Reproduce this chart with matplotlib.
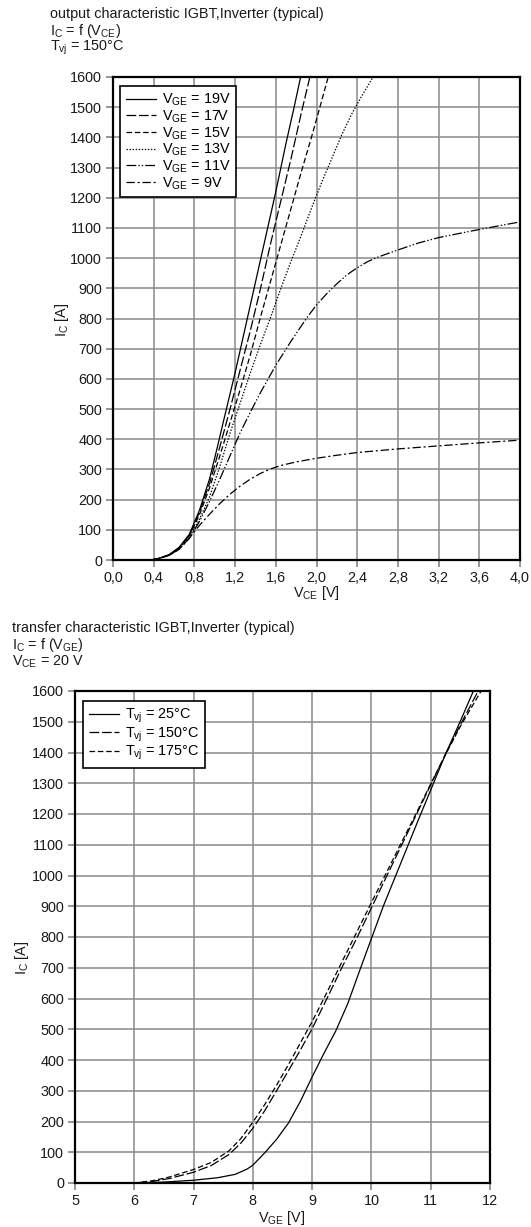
import matplotlib
matplotlib.use("Agg")
import matplotlib.pyplot as plt
import numpy as np

plt.rcParams['font.family'] = ['Liberation Sans', 'DejaVu Sans']
plt.rcParams['mathtext.default'] = 'regular'
plt.rcParams['lines.scale_dashes'] = False

# ---- output characteristic, Tvj = 150 C ----
vge_labels = ['19V', '17V', '15V', '13V', '11V', '9V']

vce_19 = [0.0, 0.37, 0.45, 0.55, 0.65, 0.75, 0.85, 0.95, 1.03, 1.1, 1.2, 1.3, 1.4, 1.5, 1.6, 1.7, 1.78, 1.844]
ic_19 = [0, 0, 5, 17, 42, 85, 165, 270, 380, 480, 620, 770, 920, 1070, 1220, 1380, 1500, 1600]

vce_17 = [0.0, 0.37, 0.45, 0.55, 0.65, 0.75, 0.85, 0.95, 1.05, 1.15, 1.25, 1.35, 1.45, 1.55, 1.65, 1.75, 1.85, 1.935]
ic_17 = [0, 0, 5, 17, 41, 82, 158, 255, 375, 500, 630, 760, 900, 1050, 1190, 1330, 1480, 1600]

vce_15 = [0.0, 0.37, 0.45, 0.55, 0.65, 0.75, 0.85, 0.95, 1.05, 1.15, 1.25, 1.35, 1.45, 1.55, 1.65, 1.75, 1.85, 1.95, 2.05, 2.115]
ic_15 = [0, 0, 5, 17, 40, 80, 150, 240, 345, 455, 565, 680, 805, 925, 1045, 1165, 1285, 1400, 1520, 1600]

vce_13 = [0.0, 0.37, 0.45, 0.55, 0.65, 0.75, 0.85, 0.95, 1.05, 1.15, 1.25, 1.35, 1.45, 1.55, 1.65, 1.75,
          1.85, 1.95, 2.05, 2.15, 2.25, 2.35, 2.45, 2.556]
ic_13 = [0, 0, 5, 16, 38, 75, 135, 210, 310, 420, 520, 620, 715, 805, 900, 990,
         1075, 1165, 1250, 1330, 1410, 1480, 1540, 1600]

vce_11 = [0.0, 0.37, 0.45, 0.55, 0.65, 0.75, 0.85, 0.95, 1.05, 1.15, 1.25, 1.35, 1.45, 1.6, 1.75, 1.9,
          2.0, 2.1, 2.2, 2.3, 2.4, 2.5, 2.6, 2.8, 3.0, 3.2, 3.6, 4.0]
ic_11 = [0, 0, 5, 15, 36, 72, 128, 195, 268, 345, 422, 490, 555, 645, 725, 800,
         845, 882, 915, 945, 968, 988, 1003, 1027, 1050, 1068, 1095, 1120]

vce_9 = [0.0, 0.37, 0.45, 0.55, 0.65, 0.75, 0.85, 0.95, 1.05, 1.15, 1.25, 1.35, 1.45, 1.55, 1.65, 1.8,
         2.0, 2.2, 2.4, 2.8, 3.2, 3.6, 4.0]
ic_9 = [0, 0, 5, 15, 35, 72, 115, 152, 187, 218, 245, 268, 287, 302, 313, 325,
        337, 347, 356, 368, 378, 388, 397]

vce_ticks = [0.0, 0.4, 0.8, 1.2, 1.6, 2.0, 2.4, 2.8, 3.2, 3.6, 4.0]
vce_ticklabels = ['0,0', '0,4', '0,8', '1,2', '1,6', '2,0', '2,4', '2,8', '3,2', '3,6', '4,0']

# ---- transfer characteristic, VCE = 20 V ----
tvj_labels = ['25°C', '150°C', '175°C']

vge_25 = [5.0, 6.0, 6.5, 7.0, 7.4, 7.7, 7.9, 8.0, 8.2, 8.4, 8.6, 8.8, 9.0, 9.2, 9.4, 9.6, 9.8,
          10.0, 10.2, 10.4, 10.6, 10.8, 11.0, 11.25, 11.5, 11.72]
ic_25 = [0, 0, 3, 9, 17, 28, 45, 58, 98, 142, 195, 265, 345, 422, 495, 583, 690,
         795, 900, 995, 1090, 1185, 1278, 1395, 1502, 1600]

vge_150 = [5.0, 6.0, 6.3, 6.6, 7.0, 7.3, 7.6, 7.8, 8.0, 8.2, 8.4, 8.6, 8.8, 9.0, 9.25, 9.5, 9.75,
           10.0, 10.25, 10.5, 10.75, 11.0, 11.25, 11.5, 11.8]
ic_150 = [0, 0, 5, 15, 35, 57, 93, 130, 178, 235, 300, 365, 432, 502, 600, 700, 795,
          895, 995, 1095, 1195, 1295, 1395, 1490, 1600]

vge_175 = [5.0, 6.0, 6.3, 6.6, 7.0, 7.3, 7.6, 7.8, 8.0, 8.2, 8.4, 8.6, 8.8, 9.0, 9.25, 9.5, 9.75,
           10.0, 10.25, 10.5, 10.75, 11.0, 11.25, 11.5, 11.85]
ic_175 = [0, 0, 7, 20, 44, 67, 105, 145, 198, 255, 318, 385, 455, 525, 620, 718, 815,
          912, 1008, 1105, 1200, 1298, 1393, 1485, 1600]

vge_ticks = [5, 6, 7, 8, 9, 10, 11, 12]
ic_ticks = list(range(0, 1700, 100))

W, H = 531, 1227
FS = 10.4
fig = plt.figure(figsize=(W / 100, H / 100), dpi=100)


def px_box(x0, y0, x1, y1):
    # pixel box (top-left origin) -> figure fraction rect
    return [x0 / W, 1 - y1 / H, (x1 - x0) / W, (y1 - y0) / H]


def style_axes(ax):
    ax.set_yticks(ic_ticks)
    ax.set_ylim(0, 1600)
    ax.grid(True, color='#8a8a8a', linewidth=1.1)
    ax.set_axisbelow(True)
    for sp in ax.spines.values():
        sp.set_linewidth(1.6)
        sp.set_color('black')
    ax.tick_params(direction='out', length=5, width=1.1, color='#7a7a7a',
                   labelsize=FS, pad=3, labelcolor='#1a1a1a')


def add_legend(ax, dx, dy, w, h):
    leg = ax.legend(loc='upper left', bbox_to_anchor=(dx / w, 1 - dy / h), fontsize=FS,
                    handlelength=2.1, handletextpad=0.4, labelspacing=0.02, borderpad=0.4,
                    borderaxespad=0, fancybox=False, framealpha=1)
    leg.get_frame().set_edgecolor('black')
    leg.get_frame().set_linewidth(1.2)
    return leg


line_kw = dict(color='black', linewidth=0.9)

ax1 = fig.add_axes(px_box(113, 77, 520, 560))
ax1.plot(vce_19, ic_19, linestyle='-', label=r'$V_{GE}$ = ' + vge_labels[0], **line_kw)
ax1.plot(vce_17, ic_17, linestyle=(0, (7, 2)), label=r'$V_{GE}$ = ' + vge_labels[1], **line_kw)
ax1.plot(vce_15, ic_15, linestyle=(0, (4, 2)), label=r'$V_{GE}$ = ' + vge_labels[2], **line_kw)
ax1.plot(vce_13, ic_13, linestyle=(0, (1, 1.2)), label=r'$V_{GE}$ = ' + vge_labels[3], **line_kw)
ax1.plot(vce_11, ic_11, linestyle=(0, (7, 1.5, 1, 1.5, 1, 1.5)), label=r'$V_{GE}$ = ' + vge_labels[4], **line_kw)
ax1.plot(vce_9, ic_9, linestyle=(0, (6, 2, 1.5, 2)), label=r'$V_{GE}$ = ' + vge_labels[5], **line_kw)
ax1.set_xlim(0, 4.0)
ax1.set_xticks(vce_ticks)
ax1.set_xticklabels(vce_ticklabels)
style_axes(ax1)
add_legend(ax1, 7, 9, 407, 483)

ax2 = fig.add_axes(px_box(75, 691, 490, 1183))
ax2.plot(vge_25, ic_25, linestyle='-', label=r'$T_{vj}$ = ' + tvj_labels[0], **line_kw)
ax2.plot(vge_150, ic_150, linestyle=(0, (7, 2)), label=r'$T_{vj}$ = ' + tvj_labels[1], **line_kw)
ax2.plot(vge_175, ic_175, linestyle=(0, (4, 2)), label=r'$T_{vj}$ = ' + tvj_labels[2], **line_kw)
ax2.set_xlim(5, 12)
ax2.set_xticks(vge_ticks)
style_axes(ax2)
add_legend(ax2, 8, 10, 415, 492)

txt = dict(fontsize=FS, color='#1a1a1a', va='center')

# headers
fig.text(50 / W, 1 - 14 / H, 'output characteristic IGBT,Inverter (typical)', **txt)
fig.text(50 / W, 1 - 31 / H, r'$I_C$ = f ($V_{CE}$)', **txt)
fig.text(50 / W, 1 - 48 / H, r'$T_{vj}$ = 150°C', **txt)

fig.text(12 / W, 1 - 628 / H, 'transfer characteristic IGBT,Inverter (typical)', **txt)
fig.text(12 / W, 1 - 645 / H, r'$I_C$ = f ($V_{GE}$)', **txt)
fig.text(12 / W, 1 - 662 / H, r'$V_{CE}$ = 20 V', **txt)

# axis labels
fig.text(316 / W, 1 - 593 / H, r'$V_{CE}$ [V]', ha='center', **txt)
fig.text(62 / W, 1 - 320 / H, r'$I_C$ [A]', ha='center', rotation=90, **txt)
fig.text(282 / W, 1 - 1218 / H, r'$V_{GE}$ [V]', ha='center', **txt)
fig.text(22 / W, 1 - 958 / H, r'$I_C$ [A]', ha='center', rotation=90, **txt)

fig.savefig('out.png', dpi=100)
